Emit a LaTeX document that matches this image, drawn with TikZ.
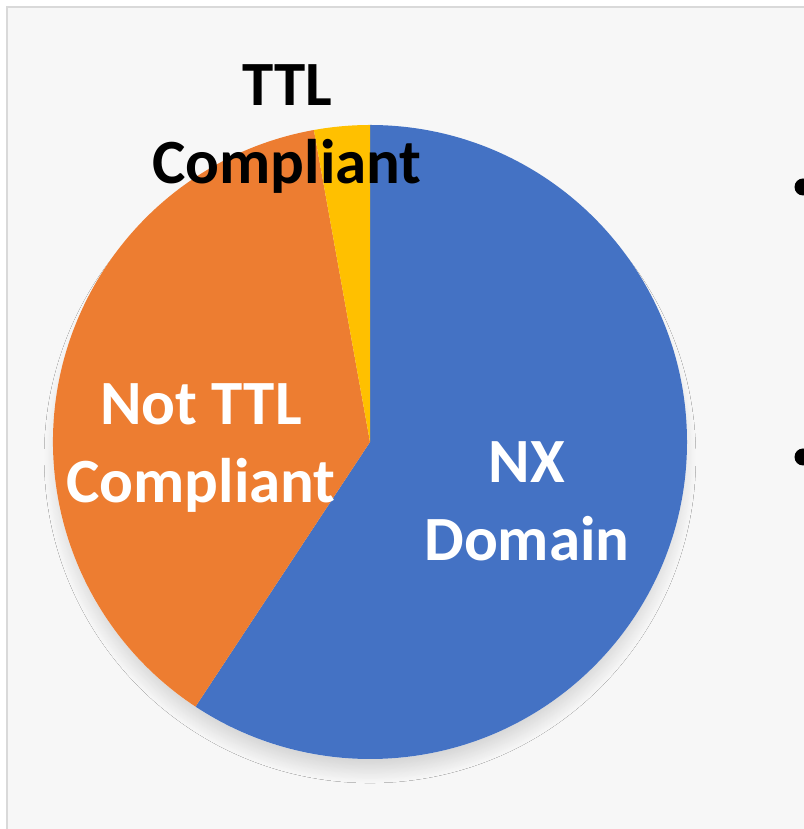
\documentclass[tikz,border=0pt]{standalone}
\usepackage{fontspec}
\setmainfont{Carlito}
\usetikzlibrary{shadows.blur}

\definecolor{nxblue}{HTML}{4472C4}
\definecolor{notorange}{HTML}{ED7D31}
\definecolor{ttlyellow}{HTML}{FFC000}
\definecolor{panelgray}{HTML}{F7F7F7}
\definecolor{framegray}{HTML}{D9D9D9}

\begin{document}
\begin{tikzpicture}[
  x=1pt, y=1pt,
  slicelabel/.style={align=center, font=\bfseries\fontsize{63}{78}\selectfont, inner sep=0pt},
  bulletdot/.style={fill=black, circle, inner sep=0pt, minimum size=17pt}]
    \useasboundingbox (0,0) rectangle (803,829);
    % Slide panel behind the chart
    \fill[white] (0,0) rectangle (803,829);
    \filldraw[fill=panelgray, draw=framegray, line width=2pt] (7,-10) -- (7,822) -- (820,822);
    \fill[panelgray] (8,-10) rectangle (820,821);
    % Pie centre and radius
    \coordinate (c) at (370,387);
    \def\pieradius{317}
    % Shadow disc
    \fill[panelgray, blur shadow={shadow xshift=0pt, shadow yshift=-16pt, shadow scale=0.95,
        shadow blur radius=26pt, shadow blur steps=30, shadow opacity=28}]
      (c) circle[radius=\pieradius];
    % NX Domain slice
    \fill[nxblue] (c) -- ++(90:\pieradius) arc[start angle=90, end angle=-123.4, radius=\pieradius] -- cycle;
    % Not TTL Compliant slice
    \fill[notorange] (c) -- ++(100.2:\pieradius) arc[start angle=100.2, end angle=236.6, radius=\pieradius] -- cycle;
    % TTL Compliant slice
    \fill[ttlyellow] (c) -- ++(90:\pieradius) arc[start angle=90, end angle=100.2, radius=\pieradius] -- cycle;
    % Slice labels
    \node[slicelabel, text=black] (ttl) at (287,700) {TTL\\Compliant};
    \node[slicelabel, text=white] (notttl) at (201,381) {Not TTL\\Compliant};
    \node[slicelabel, text=white] (nx) at (527,328) {NX\\Domain};
    % Bullets of the text beside the chart
    \node[bulletdot] (bulletA) at (803,642) {};
    \node[bulletdot] (bulletB) at (803,372) {};
\end{tikzpicture}
\end{document}
